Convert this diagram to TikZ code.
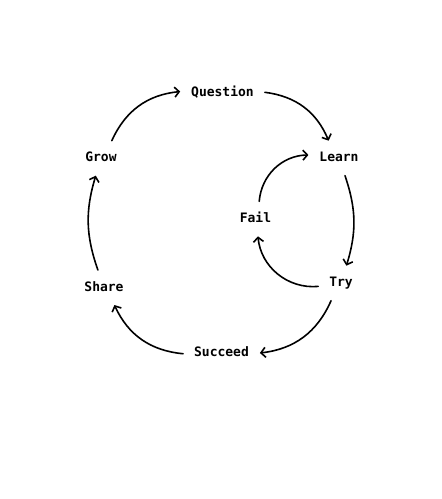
\documentclass[tikz,border=0pt]{standalone}
\usepackage{fontspec}
\setmonofont{DejaVu Sans Mono}
\usepackage{tikz}
\usetikzlibrary{arrows.meta,positioning}

\begin{document}
\begin{tikzpicture}[x=1pt, y=-1pt, >={Straight Barb[length=4.5pt,width=10pt]},
    font=\ttfamily\bfseries\fontsize{13}{15}\selectfont,
    stage/.style={inner sep=2pt, outer sep=9pt, text height=10pt, text depth=3pt},
    flow/.style={->, line width=1.6pt, line cap=round}]
  \useasboundingbox (0,0) rectangle (442,499);

  % outer cycle
  \node[stage] (question) at (222.5,92.8) {Question};
  \node[stage] (learn) at (339,158.2) {Learn};
  \node[stage] (try) at (341,283.2) {Try};
  \node[stage] (succeed) at (221.5,353.2) {Succeed};
  \node[stage] (share) at (104,287.5) {Share};
  \node[stage] (grow) at (101,158.2) {Grow};
  % inner loop
  \node[stage] (fail) at (255.5,218.8) {Fail};

  \draw[flow] (question) to[bend left=30] (learn);
  \draw[flow] (learn) to[bend left=18] (try);
  \draw[flow] (try) to[bend left=30] (succeed);
  \draw[flow] (succeed) to[bend left=30] (share);
  \draw[flow] (share) to[bend left=18] (grow);
  \draw[flow] (grow) to[bend left=30] (question);

  \draw[flow] (try) to[bend left=45] (fail);
  \draw[flow] (fail) to[bend left=42] (learn);
\end{tikzpicture}
\end{document}
